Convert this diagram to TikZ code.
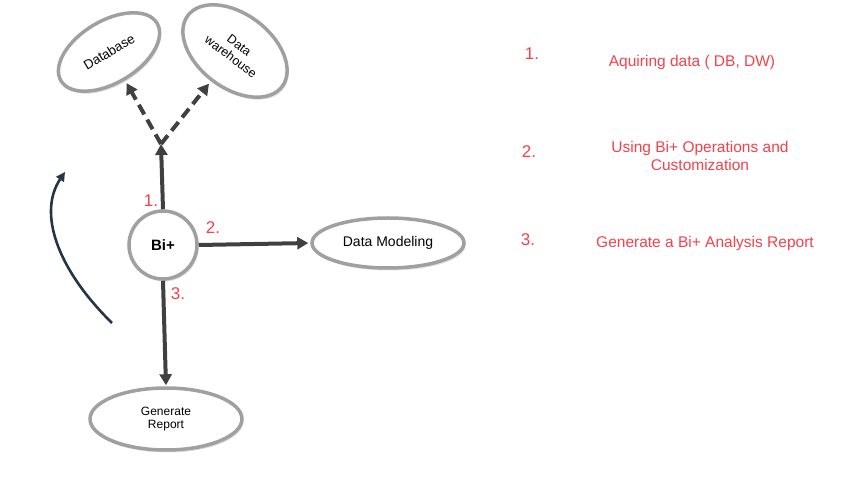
\documentclass[tikz,border=0pt]{standalone}
\usepackage{fontspec}
\setmainfont{Liberation Sans}
\usetikzlibrary{shapes.geometric,arrows.meta,shadows}
\definecolor{ringgray}{RGB}{160,160,160}
\definecolor{arrowgray}{RGB}{64,64,64}
\definecolor{navy}{RGB}{37,52,71}
\definecolor{labred}{RGB}{245,65,75}
\tikzset{
  oval/.style={ellipse, draw=ringgray, line width=3.5pt, fill=white, inner sep=0pt,
    drop shadow={opacity=0.25, shadow xshift=1.5pt, shadow yshift=-2.5pt}, font=\fontsize{12}{13.5}\selectfont, align=center},
  hub/.style={circle, draw=ringgray, line width=3.5pt, fill=white, minimum size=68pt,
    drop shadow={opacity=0.25, shadow xshift=1.5pt, shadow yshift=-2.5pt}, font=\bfseries\fontsize{15}{17}\selectfont},
  flow/.style={draw=arrowgray, line width=4pt, -{Triangle[length=11pt,width=12pt]}},
  dflow/.style={flow, dash pattern=on 11pt off 6pt},
  redlab/.style={text=labred, font=\fontsize{17}{19}\selectfont, inner sep=0pt},
  redtxt/.style={text=labred, font=\fontsize{15.5}{17.5}\selectfont, align=center, inner sep=0pt}
}
\begin{document}
\begin{tikzpicture}[x=1pt,y=-1pt]
\useasboundingbox (0,0) rectangle (860,502);
% nodes
\node[oval, minimum width=112pt, minimum height=62pt, rotate=31, font=\fontsize{13.3}{15}\selectfont] (db) at (109,52) {Database};
\node[oval, minimum width=118pt, minimum height=74pt, rotate=-37, font=\fontsize{12.5}{14}\selectfont] (dw) at (235,51) {Data\\warehouse};
\node[hub] (bi) at (163,245) {Bi+};
\node[oval, minimum width=152pt, minimum height=50pt, font=\fontsize{14}{16}\selectfont] (dm) at (388,243) {Data Modeling};
\node[oval, minimum width=152pt, minimum height=62pt] (gr) at (166,419) {Generate\\Report};
\coordinate (j) at (161,144);
% connectors
\draw[flow] (bi.north) -- (j);
\draw[dflow, shorten >=3pt] (j) -- (db);
\draw[dflow, shorten >=3pt] (j) -- (dw);
\draw[flow, shorten >=2pt] (bi.east) -- (dm.west);
\draw[flow, shorten >=1pt] (bi.south) -- (gr.north);
% curved arrow
\coordinate (c1) at (112,323);
\coordinate (c2) at (65,172);
\draw[navy, line width=2.6pt, -{Triangle[length=9pt,width=9pt]}] (c1) .. controls (56,268) and (38,212) .. (c2);
% labels near hub
\node[redlab] (l1) at (151,201) {1.};
\node[redlab] (l2) at (213,228) {2.};
\node[redlab] (l3) at (178,294) {3.};
% right-hand list
\node[redlab] (n1) at (532,54) {1.};
\node[redtxt] (t1) at (692,62) {Aquiring data ( DB, DW)};
\node[redlab] (n2) at (529,152) {2.};
\node[redtxt] (t2) at (700,156) {Using Bi+ Operations and\\Customization};
\node[redlab] (n3) at (528,240) {3.};
\node[redtxt] (t3) at (705,243) {Generate a Bi+ Analysis Report};
\end{tikzpicture}
\end{document}
